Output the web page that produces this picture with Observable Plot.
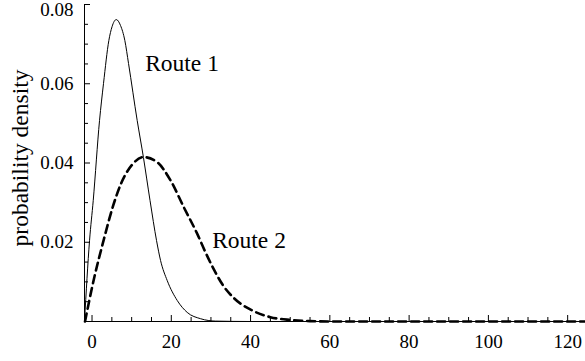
<!DOCTYPE html>
<html>
<head>
<meta charset="utf-8">
<script src="https://cdn.jsdelivr.net/npm/d3@7"></script>
<script src="https://cdn.jsdelivr.net/npm/@observablehq/plot@0.6"></script>
<style>
  html, body { margin: 0; padding: 0; background: white; }
  svg, svg text { font-family: "Liberation Serif", "Times New Roman", serif !important; }
</style>
</head>
<body>
<div id="chart"></div>
<script>
// Tick values and labels
const xTicks = [0, 20, 40, 60, 80, 100, 120];
const xMinorTicks = [5, 10, 15, 25, 30, 35, 45, 50, 55, 65, 70, 75, 85, 90, 95, 105, 110, 115];
const yTicks = [0.02, 0.04, 0.06, 0.08];
const yMinorTicks = [0.005, 0.01, 0.015, 0.025, 0.03, 0.035, 0.045, 0.05, 0.055, 0.065, 0.07, 0.075];
const yLabel = "probability density";
const seriesNames = ["Route 1", "Route 2"];

// Route 1 (solid)
const route1X = [-1.9, -0.63, 0.30, 1.89, 2.90, 4.24, 5.05, 6.11, 7.19, 8.28, 9.21, 11.4, 12.97, 14.64, 16.28, 17.29, 18.98, 21.5, 24.0, 27.4, 31.2, 40, 124.5];
const route1Y = [0, 0.0204, 0.0305, 0.0507, 0.0601, 0.0709, 0.0744, 0.0762, 0.0747, 0.0709, 0.0651, 0.0507, 0.0414, 0.0305, 0.0204, 0.0154, 0.0103, 0.0053, 0.0023, 0.0007, 0.0001, 0, 0];

// Route 2 (dashed)
const route2X = [-1.77, 0.38, 2.90, 5.35, 7.44, 10.15, 12.92, 16.45, 19.81, 23.17, 26.55, 28.6, 30.7, 33.0, 35.8, 40.0, 45.0, 50.0, 55.0, 60.0, 124.5];
const route2Y = [0, 0.0103, 0.0204, 0.0293, 0.0351, 0.0396, 0.0415, 0.0402, 0.0356, 0.0288, 0.0221, 0.0175, 0.0132, 0.0092, 0.0059, 0.0030, 0.0011, 0.0004, 0.0001, 0, 0];

// Label positions (data coordinates)
const labelX = [13.4, 30.3];
const labelY = [0.0652, 0.0204];

const route1 = route1X.map((x, i) => ({x, y: route1Y[i]}));
const route2 = route2X.map((x, i) => ({x, y: route2Y[i]}));
const labels = seriesNames.map((name, i) => ({name, x: labelX[i], y: labelY[i]}));

const W = 585, H = 361;
const mT = 4, mB = 40, mL = 84, mR = 0;
const innerW = W - mL - mR, innerH = H - mT - mB;
const xMin = -1.9, xMax = 124.5;
const font = "'Liberation Serif', 'Times New Roman', serif";

const chart = Plot.plot({
  width: W,
  height: H,
  marginTop: mT,
  marginBottom: mB,
  marginLeft: mL,
  marginRight: mR,
  x: {domain: [xMin, xMax]},
  y: {domain: [0, 0.08]},
  style: `font-family: ${font}; font-size: 19px; background: white; color: black;`,
  marks: [
    // axis lines
    Plot.ruleX([xMin], {stroke: "black", strokeWidth: 1}),
    Plot.ruleY([0], {stroke: "black", strokeWidth: 1}),
    // inward ticks
    Plot.ruleX(xTicks, {x: d => d, insetTop: innerH - 6, stroke: "black"}),
    Plot.ruleX(xMinorTicks, {x: d => d, insetTop: innerH - 4, stroke: "black"}),
    Plot.ruleY(yTicks, {y: d => d, insetRight: innerW - 6, stroke: "black"}),
    Plot.ruleY(yMinorTicks, {y: d => d, insetRight: innerW - 4, stroke: "black"}),
    // tick labels
    Plot.axisX(xTicks, {tickSize: 0, tickPadding: 13, label: null, fontSize: 19, fontFamily: font}),
    Plot.axisY(yTicks.slice(0, 3), {tickSize: 0, tickPadding: 11, label: null, fontSize: 19, fontFamily: font, tickFormat: d3.format(".2f")}),
    Plot.axisY(yTicks.slice(3), {tickSize: 0, tickPadding: 11, label: null, fontSize: 19, fontFamily: font, dy: 5, tickFormat: d3.format(".2f")}),
    // y axis title
    Plot.text([yLabel], {frameAnchor: "left", textAnchor: "middle", dx: -64, dy: -5, rotate: -90, fontSize: 23.5, fontFamily: font, fill: "black", lineAnchor: "middle"}),
    // curves
    Plot.line(route1, {x: "x", y: "y", stroke: "black", strokeWidth: 1, curve: "monotone-x"}),
    Plot.line(route2, {x: "x", y: "y", stroke: "black", strokeWidth: 2.6, strokeDasharray: "8,5", curve: "monotone-x"}),
    // series labels
    Plot.text(labels, {x: "x", y: "y", text: "name", textAnchor: "start", fontSize: 23.5, fontFamily: font, fill: "black", lineAnchor: "middle"})
  ]
});
document.getElementById("chart").appendChild(chart);
</script>
</body>
</html>
